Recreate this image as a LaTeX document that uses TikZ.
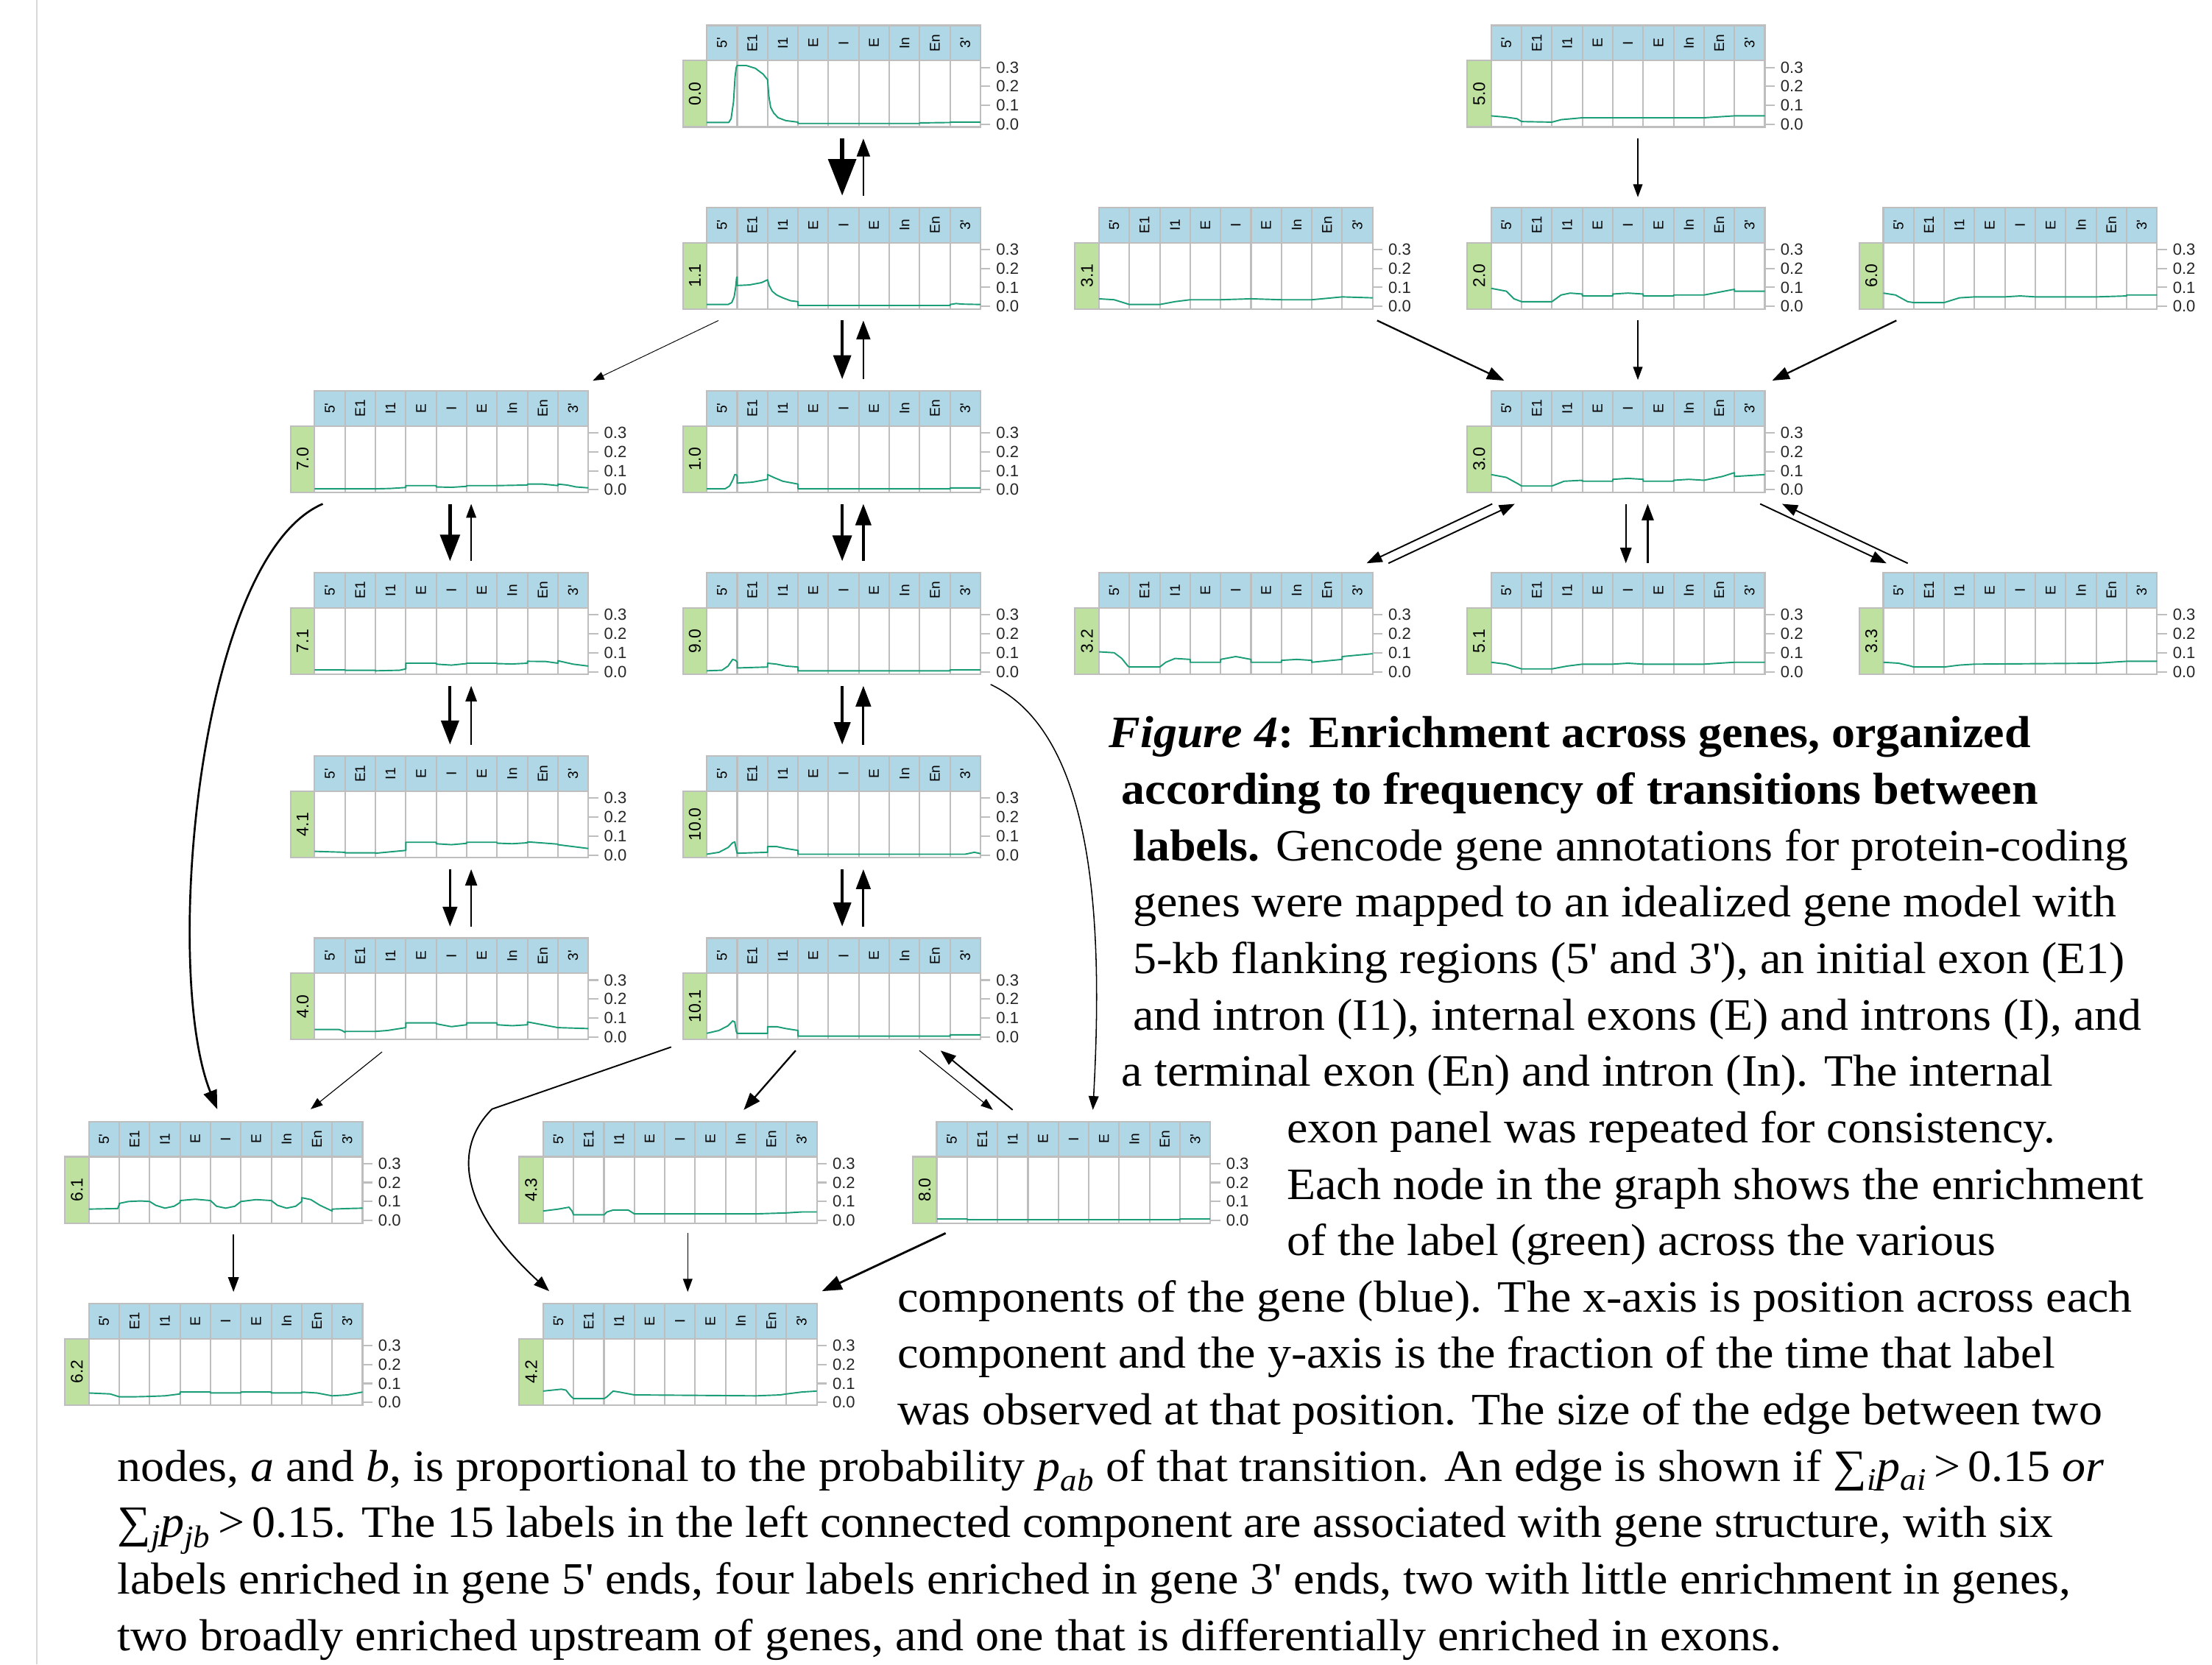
\documentclass[tikz,border=0pt]{standalone}
\usepackage{fontspec}
\setmainfont{Liberation Serif}
\newfontfamily\capfont{Liberation Serif}[FakeStretch=1.05]
\newfontfamily\plotfont{Liberation Sans}
\usetikzlibrary{arrows.meta,calc}

\definecolor{headblue}{RGB}{176,215,230}
\definecolor{stripgreen}{RGB}{190,225,160}
\definecolor{gridgray}{RGB}{190,190,190}
\definecolor{curvegreen}{RGB}{27,158,119}

\tikzset{
  panelbox/.style={minimum width=194pt, minimum height=72pt, inner sep=0pt},
  cellrule/.style={draw=gridgray, line width=1.1pt},
  headlab/.style={rotate=90, inner sep=0pt, font=\plotfont\fontsize{10}{10}\selectfont},
  greenlab/.style={rotate=90, inner sep=0pt, font=\plotfont\fontsize{12}{12}\selectfont},
  ticklab/.style={anchor=west, inner sep=0pt, text=black!85, font=\plotfont\fontsize{11.5}{11.5}\selectfont},
  curve/.style={draw=curvegreen, line width=1pt, line join=round},
  link/.style={line width=#1, -{Triangle[length=5pt 6, width=3.5pt 4.5]}},
  captext/.style={anchor=base west, inner sep=0pt, font=\capfont\fontsize{31.8}{40}\selectfont},
}

% one enrichment panel: name, x, y (top left of green strip column / header top), label, curve
\newcommand{\genepanel}[5]{%
  \begin{scope}[shift={(#2,#3)}]
    \node[panelbox] (#1) at (114,36) {};
    \fill[stripgreen] (0,25) rectangle (17,72);
    \draw[cellrule] (0,25) rectangle (17,72);
    \fill[headblue] (17,0) rectangle (211,25);
    \foreach \k in {1,...,8}
      \draw[cellrule] ({17+21.556*\k},0) -- ({17+21.556*\k},72);
    \draw[cellrule] (17,0) rectangle (211,72) (17,25) -- (211,25);
    \foreach \lab [count=\k from 0] in {5',E1,I1,E,I,E,In,En,3'}
      \node[headlab] (#1-h\k) at ({17+21.556*(\k+0.5)},12.5) {\lab};
    \foreach \t in {0,...,3}{
      \draw[cellrule] (211,{70.2-13.47*\t}) -- (218,{70.2-13.47*\t});
      \node[ticklab] (#1-t\t) at (222,{70.2-13.47*\t}) {0.\t};
    }
    \node[greenlab] (#1-g) at (8.5,48.5) {#4};
    \begin{scope}[shift={(17,70.2)}, xscale=21.556, yscale=-1.347]
      \draw[curve] plot coordinates {#5};
    \end{scope}
  \end{scope}}

\begin{document}
\begin{tikzpicture}[x=1pt,y=1pt,yscale=-1]
\path[use as bounding box, fill=white] (0,0) rectangle (1568,1180);
%page edge
\draw[gridgray!60, line width=1pt] (26,0) -- (26,1180);

%Panels, left component
\genepanel{p00}{484}{18}{0.0}{(0,1) (0.72,1) (0.8,3) (0.88,12) (0.93,25) (0.97,30) (1,31) (1.3,31) (1.6,29.5) (1.85,26.5) (2,23.5) (2.04,15) (2.1,9) (2.2,6) (2.35,3.5) (2.6,2) (3,1.2) (3,0.5) (7,0.5) (7,0.8) (8,1) (8,1.2) (9,1.2)}
\genepanel{p11}{484}{147}{1.1}{(0,1) (0.7,1) (0.82,2) (0.9,5) (0.95,10) (0.98,15) (1,15.5) (1,11) (1.4,11.3) (1.8,12.5) (2,14) (2.05,11) (2.15,8) (2.3,6) (2.5,4.5) (2.75,3) (3,2.5) (3,0.5) (8,0.5) (8,1) (8.2,1.5) (8.4,1.2) (9,1)}
\genepanel{p70}{206}{277}{7.0}{(0,0.5) (2,0.5) (2.5,0.7) (3,1.2) (3,2.2) (4,2.2) (4,1.5) (4.5,1.3) (5,1.8) (5,2.2) (6,2.2) (7,2.5) (7,3) (7.5,3) (8,2.2) (8,3) (8.3,2.5) (8.6,1.5) (9,1)}
\genepanel{p10}{484}{277}{1.0}{(0,0.5) (0.6,0.5) (0.75,2) (0.85,5) (0.92,8) (0.97,8) (1,7) (1,3.5) (1.5,4) (2,5.5) (2,8) (2.2,6.5) (2.5,4.5) (3,3) (3,0.5) (8,0.5) (8,1) (9,1)}
\genepanel{p71}{206}{406}{7.1}{(0,1) (1,1) (1,0.8) (2,0.8) (2,0.5) (2.8,0.8) (3,1.5) (3,4.5) (4,4.5) (4,4) (4.5,3.5) (5,4.3) (5,4.5) (6,4.5) (6,4.3) (6.5,4.1) (7,4.5) (7,5.5) (7.6,5.4) (8,4.5) (8,5.8) (8.5,4) (9,3)}
\genepanel{p90}{484}{406}{9.0}{(0,0.5) (0.5,0.8) (0.7,3) (0.85,6.5) (0.95,6) (1,5) (1,2) (2,2.5) (2,4.5) (2.3,4) (2.6,3) (3,2.5) (3,0.5) (8,0.5) (8,1) (9,1)}
\genepanel{p41}{206}{536}{4.1}{(0,2) (1,1.5) (1,1.2) (2,1.2) (2,1) (3,2.5) (3,6.8) (4,6.8) (4,6) (4.5,5.5) (5,6.2) (5,6.8) (6,6.8) (6,6.3) (6.5,6) (7,6.5) (7,7) (8,5.8) (8,5.5) (9,3.5)}
\genepanel{p100}{484}{536}{10.0}{(0,0.5) (0.4,1.5) (0.7,4) (0.85,6.5) (0.92,7) (0.97,3) (1,1) (2,1.5) (2,4.5) (2.3,4.5) (2.6,3.5) (3,2.5) (3,0.5) (8,0.5) (8.5,0.5) (8.8,1.5) (9,0.8)}
\genepanel{p40}{206}{665}{4.0}{(0,4) (0.8,4) (0.9,3.5) (1,2.5) (1,3) (2,3) (2.4,3.5) (3,5) (3,7.5) (4,7.5) (4,7) (4.5,5.5) (5,6.5) (5,7.5) (6,7.5) (6,6.5) (6.5,6) (7,6.5) (7,8) (8,5) (9,4.5)}
\genepanel{p101}{484}{665}{10.1}{(0,2) (0.4,3.5) (0.7,6) (0.85,8.5) (0.92,8) (0.97,3) (1,2) (2,2) (2,5.5) (2.3,5.5) (2.6,4.5) (3,3.5) (3,0.5) (8,0.5) (8,1.2) (9,1.2)}
\genepanel{p61}{46}{795}{6.1}{(0,6) (0.95,6.3) (1,8.5) (1,9) (1.3,10) (1.7,10.3) (2,10) (2.2,8) (2.5,6.5) (2.8,7.5) (3,9.5) (3,10.5) (3.5,11.2) (4,10.5) (4.2,7.5) (4.5,6.5) (4.8,7.5) (5,10) (5.5,11) (6,10.5) (6.2,8) (6.5,6.5) (6.8,7.5) (7,10) (7,12) (7.3,11) (7.6,8) (8,5) (8,6) (8.5,6.3) (9,6.5)}
\genepanel{p43}{368}{795}{4.3}{(0,5) (0.5,6) (0.85,7) (0.95,5) (1,3) (2,3) (2.1,4.5) (2.3,5.5) (2.8,5.5) (3,3.5) (7,3.5) (8,4) (8.5,4.5) (9,4.5)}
\genepanel{p80}{647}{795}{8.0}{(0,1) (1,1) (1,0.5) (8,0.5) (8,1) (9,1)}
\genepanel{p62}{46}{924}{6.2}{(0,5) (0.7,4.5) (1,3) (1.5,3) (2,3.2) (2.5,3.5) (3,4.5) (3,5.5) (4,5.5) (4,5) (5,5) (5,5.5) (6,5.5) (6,5) (7,5) (7,5.5) (7.5,5) (8,3.5) (8.5,4) (9,5.5)}
\genepanel{p42}{368}{924}{4.2}{(0,6) (0.6,7) (0.75,6.5) (0.9,3.5) (1,2) (2,2) (2.1,3) (2.3,6) (2.5,5.5) (3,4) (7,3.5) (7.8,4) (8,4.5) (8.5,5.5) (9,6)}

%Panels, right component
\genepanel{p50}{1040}{18}{5.0}{(0,4.5) (0.5,3.8) (0.85,3) (1,1.5) (2,1.2) (2.3,2.5) (3,3.5) (7,3.5) (8,4.5) (9,4.5)}
\genepanel{p31}{762}{147}{3.1}{(0,4) (0.5,3.5) (0.9,1.5) (1,1) (2,1) (2.5,2.5) (3,3.5) (4,3.5) (5,4) (6,3.5) (7,3.5) (8,5) (9,4.5)}
\genepanel{p20}{1040}{147}{2.0}{(0,9.5) (0.5,8) (0.75,4) (1,2.5) (2,2.5) (2.3,6) (2.6,7) (3,6.5) (3,5.5) (4,5.5) (4,6.5) (4.5,7) (5,6.5) (5,5.5) (6,5.5) (6,6) (7,6) (7.5,7.5) (8,9) (8,8) (9,8)}
\genepanel{p60}{1318}{147}{6.0}{(0,7) (0.4,6) (0.8,2.5) (1,2) (2,2) (2.5,4.5) (3,5) (4,5) (4.5,5.5) (5,5) (7,5) (8,5.5) (8,6) (9,6)}
\genepanel{p30}{1040}{277}{3.0}{(0,8) (0.5,6.5) (0.9,3) (1,2) (2,2) (2.4,4.5) (3,5) (3,4.5) (4,4.5) (4,5.5) (4.5,6) (5,5.5) (5,4.5) (6,4.5) (6,5) (6.5,5.5) (7,5) (7.6,7) (8,9) (8,7) (9,8)}
\genepanel{p32}{762}{406}{3.2}{(0,10.5) (0.5,10) (0.75,7) (0.95,3) (1,2.5) (2,2.5) (2.2,5) (2.5,7) (3,6.5) (3,5) (4,5) (4,6.5) (4.5,8) (5,6.5) (5,5) (6,5) (6,6) (6.5,6.5) (7,6) (7,5) (8,6.5) (8,8) (9,9.5)}
\genepanel{p51}{1040}{406}{5.1}{(0,5) (0.5,4) (0.9,2) (1,1.5) (2,1.5) (2.5,3) (3,4) (4,4) (4.5,4.5) (5,4) (7,4) (8,5) (9,5)}
\genepanel{p33}{1318}{406}{3.3}{(0,5) (0.5,4.5) (0.9,3) (1,2.5) (2,2.5) (2.5,3.5) (3,4) (7,4.5) (8,5.5) (9,5.5)}

%Transitions, stacked pairs
\foreach \a/\b/\dn/\up in {p00/p11/3.5/1.3, p11/p10/2/1.4, p10/p90/2.2/1.7, p90/p100/1.8/1.6, p100/p101/2/1.5, p70/p71/2.3/0.8, p71/p41/2/1, p41/p40/1.5/1.1}{
  \draw[link=\dn pt] ($(\a.south)+(-1,8)$) -- ($(\b.north)+(-1,-8)$);
  \draw[link=\up pt] ($(\b.north)+(14,-8)$) -- ($(\a.south)+(14,8)$);
}
%Transitions, left component
\draw[link=0.5pt] ($(p11.south west)+(8.5,8)$) -- ($(p70.north east)+(3,-7)$);
\draw[link=1.4pt] ($(p70.south west)+(6,8)$) .. controls +(-89,38) and +(-39,-97) .. ($(p61.north)+(-6,-8.5)$);
\draw[link=0.6pt] ($(p40.south west)+(48,8.5)$) -- ($(p61.north east)+(-37,-8.5)$);
\draw[link=0.9pt] ($(p61.south)+(5.5,8)$) -- ($(p62.north)+(5.5,-8)$);
\draw[link=1.2pt] ($(p101.south)+(-34,7.5)$) -- ($(p43.north east)+(-52,-8)$);
\draw[link=1pt] ($(p101.south west)+(-25,5)$) -- ++(-127,44) .. controls +(-30,30) and +(-60,-55) .. ($(p42.north west)+(4.5,-8.5)$);
\draw[link=0.6pt] ($(p101.south east)+(-43.5,7.5)$) -- ($(p80.north west)+(40,-8)$);
\draw[link=1pt] ($(p80.north west)+(54,-8)$) -- ($(p101.south east)+(-28.5,7.5)$);
\draw[link=0.8pt] ($(p90.south east)+(7,7)$) .. controls +(73,35) and +(7.5,-137) .. ($(p80.north east)+(-83.5,-8)$);
\draw[link=1.5pt] ($(p80.south west)+(6.5,7)$) -- ($(p42.north east)+(3.5,-8.5)$);
\draw[link=0.7pt] ($(p43.south)+(5.5,7)$) -- ($(p42.north)+(5.5,-8)$);

%Transitions, right component
\draw[link=0.7pt] ($(p50.south)+(7,8)$) -- ($(p20.north)+(7,-7)$);
\draw[link=0.7pt] ($(p20.south)+(7,8)$) -- ($(p30.north)+(7,-7.5)$);
\draw[link=1.2pt] ($(p31.south east)+(3,8)$) -- ($(p30.north west)+(9.5,-7)$);
\draw[link=1.2pt] ($(p60.south west)+(9.5,8)$) -- ($(p30.north east)+(5,-7)$);
\draw[link=1pt] ($(p30.south west)+(1,8)$) -- ($(p32.north east)+(-4.5,-6.5)$);
\draw[link=1pt] ($(p32.north east)+(11,-6.5)$) -- ($(p30.south west)+(17,8)$);
\draw[link=1pt] ($(p30.south)+(-1.5,8)$) -- ($(p51.north)+(-1.5,-6.5)$);
\draw[link=1.1pt] ($(p51.north)+(14,-6.5)$) -- ($(p30.south)+(14,8)$);
\draw[link=1pt] ($(p30.south east)+(-3.5,8)$) -- ($(p33.north west)+(2.5,-6.5)$);
\draw[link=1pt] ($(p33.north west)+(17.5,-6.5)$) -- ($(p30.south east)+(12,8)$);

% Text Node
\node[captext] (cap1) at (786,530) {\textbf{\textit{Figure 4}: Enrichment across genes, organized}};
\node[captext] (cap2) at (795,570) {\textbf{according to frequency of transitions between}};
\node[captext] (cap3) at (803,610) {\textbf{labels.} Gencode gene annotations for protein-coding};
\node[captext] (cap4) at (803,650) {genes were mapped to an idealized gene model with};
\node[captext] (cap5) at (803,690) {5-kb flanking regions (5\textquotesingle\ and 3\textquotesingle), an initial exon (E1)};
\node[captext] (cap6) at (803,730) {and intron (I1), internal exons (E) and introns (I), and};
\node[captext] (cap7) at (795,770) {a terminal exon (En) and intron (In). The internal};
\node[captext] (cap8) at (912,810) {exon panel was repeated for consistency.};
\node[captext] (cap9) at (912,850) {Each node in the graph shows the enrichment};
\node[captext] (cap10) at (912,890) {of the label (green) across the various};
\node[captext] (cap11) at (636,930) {components of the gene (blue). The x-axis is position across each};
\node[captext] (cap12) at (636,970) {component and the y-axis is the fraction of the time that label};
\node[captext] (cap13) at (636,1010) {was observed at that position. The size of the edge between two};
\node[captext] (cap14) at (83,1050) {nodes, \textit{a} and \textit{b}, is proportional to the probability \textit{p}\textsubscript{\textit{ab}} of that transition. An edge is shown if ∑\textsubscript{\textit{i}}\textit{p}\textsubscript{\textit{ai}}\,>\,0.15 \textit{or}};
\node[captext] (cap15) at (83,1090) {∑\textsubscript{\textit{j}}\textit{p}\textsubscript{\textit{jb}}\,>\,0.15. The 15 labels in the left connected component are associated with gene structure, with six};
\node[captext] (cap16) at (83,1130) {labels enriched in gene 5\textquotesingle\ ends, four labels enriched in gene 3\textquotesingle\ ends, two with little enrichment in genes,};
\node[captext] (cap17) at (83,1170) {two broadly enriched upstream of genes, and one that is differentially enriched in exons.};

\end{tikzpicture}
\end{document}
